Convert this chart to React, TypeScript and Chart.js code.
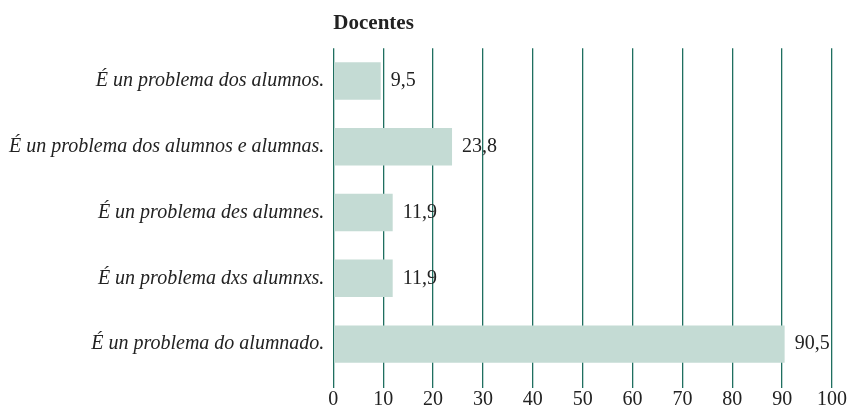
import React, { useEffect, useRef } from "react";
import { Chart, registerables } from "chart.js";

Chart.register(...registerables);

const categories = [
  "É un problema dos alumnos.",
  "É un problema dos alumnos e alumnas.",
  "É un problema des alumnes.",
  "É un problema dxs alumnxs.",
  "É un problema do alumnado.",
];
const values = [9.5, 23.8, 11.9, 11.9, 90.5];
const title = "Docentes";

const FONT = "'Liberation Serif', 'Times New Roman', serif";

const valueLabels = {
  id: "valueLabels",
  afterDatasetsDraw(chart: any) {
    const ctx = chart.ctx;
    const meta = chart.getDatasetMeta(0);
    ctx.save();
    ctx.font = `20px ${FONT}`;
    ctx.fillStyle = "#222";
    ctx.textAlign = "left";
    ctx.textBaseline = "middle";
    meta.data.forEach((bar: any, i: number) => {
      const txt = values[i].toFixed(1).replace(".", ",");
      ctx.fillText(txt, bar.x + 10, bar.y);
    });
    ctx.restore();
  },
};

export default function App() {
  const ref = useRef<HTMLCanvasElement>(null);
  useEffect(() => {
    document.body.style.margin = "0";
    const chart = new Chart(ref.current!, {
      type: "bar",
      data: {
        labels: categories,
        datasets: [
          {
            data: values,
            backgroundColor: "#c4dbd4",
            borderWidth: 0,
            barPercentage: 0.57,
            categoryPercentage: 1,
          },
        ],
      },
      options: {
        indexAxis: "y",
        animation: false,
        responsive: false,
        layout: { padding: { top: 6, right: 17, left: 0, bottom: 0 } },
        plugins: {
          legend: { display: false },
          tooltip: { enabled: false },
          title: {
            display: true,
            text: title,
            align: "start",
            fullSize: false,
            color: "#222",
            font: { family: FONT, size: 21, weight: "bold" },
            padding: { top: 5, bottom: 12 },
          },
        },
        scales: {
          x: {
            min: 0,
            max: 100,
            ticks: {
              stepSize: 10,
              color: "#222",
              font: { family: FONT, size: 20 },
              padding: 0,
            },
            grid: {
              color: "#1f6f60",
              lineWidth: 1.3,
              drawTicks: true,
              tickLength: 11,
            },
            border: { display: false },
          },
          y: {
            ticks: {
              color: "#222",
              font: { family: FONT, size: 20, style: "italic" },
              padding: 9,
            },
            grid: { display: false, drawTicks: false },
            border: { display: false },
          },
        },
      },
      plugins: [valueLabels],
    });
    return () => chart.destroy();
  }, []);
  return (
    <div style={{ width: 849, height: 412 }}>
      <canvas ref={ref} width={849} height={412} />
    </div>
  );
}
